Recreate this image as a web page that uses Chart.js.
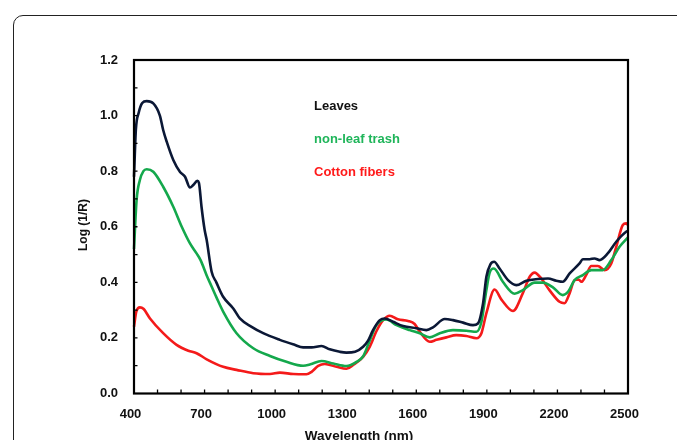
<!DOCTYPE html>
<html>
<head>
<meta charset="utf-8">
<script src="https://cdn.jsdelivr.net/npm/chart.js@4/dist/chart.umd.min.js"></script>
<style>
  html, body { margin: 0; padding: 0; background: #fff; }
  #wrap { position: relative; width: 677px; height: 440px; overflow: hidden; }
  #frame { position: absolute; left: 13px; top: 15px; width: 700px; height: 480px;
           border: 1.2px solid #222; border-radius: 10px; box-sizing: border-box; }
  canvas { position: absolute; left: 0; top: 0; }
</style>
</head>
<body>
<div id="wrap">
  <div id="frame"></div>
  <canvas id="c" width="677" height="440"></canvas>
</div>
<script>
// ---- Data ----
const seriesNames = ["Leaves", "non-leaf trash", "Cotton fibers"];

const leavesWl  = [400, 408, 420, 435, 454, 482, 510, 524, 539, 567, 595, 617, 638, 652, 669, 676, 687, 700, 709, 730, 750, 779, 822, 850, 900, 949, 1020, 1080, 1119, 1155, 1197, 1232, 1275, 1303, 1340, 1374, 1395, 1416, 1445, 1466, 1501, 1544, 1600, 1643, 1671, 1721, 1756, 1799, 1841, 1862, 1884, 1898, 1915, 1931, 1954, 1990, 2025, 2068, 2117, 2160, 2195, 2223, 2252, 2294, 2308, 2337, 2358, 2379, 2414, 2450, 2492, 2500];
const leavesVal = [0.78, 0.95, 1.01, 1.045, 1.052, 1.044, 1.0, 0.948, 0.906, 0.84, 0.798, 0.78, 0.741, 0.75, 0.765, 0.758, 0.672, 0.59, 0.552, 0.438, 0.40, 0.348, 0.306, 0.27, 0.24, 0.217, 0.193, 0.176, 0.166, 0.166, 0.171, 0.159, 0.150, 0.147, 0.150, 0.168, 0.19, 0.228, 0.264, 0.270, 0.258, 0.243, 0.235, 0.228, 0.238, 0.268, 0.264, 0.255, 0.246, 0.252, 0.325, 0.420, 0.465, 0.474, 0.450, 0.408, 0.39, 0.406, 0.412, 0.414, 0.406, 0.402, 0.432, 0.468, 0.483, 0.483, 0.486, 0.480, 0.504, 0.546, 0.582, 0.585];

const trashWl  = [400, 411, 425, 440, 454, 482, 524, 567, 603, 638, 666, 683, 709, 730, 751, 779, 836, 907, 978, 1048, 1119, 1150, 1197, 1247, 1303, 1346, 1375, 1395, 1431, 1473, 1516, 1572, 1615, 1657, 1700, 1756, 1813, 1856, 1877, 1898, 1912, 1930, 1968, 2018, 2053, 2103, 2138, 2181, 2223, 2245, 2273, 2308, 2344, 2393, 2429, 2464, 2500];
const trashVal = [0.52, 0.696, 0.768, 0.80, 0.807, 0.798, 0.744, 0.672, 0.600, 0.540, 0.504, 0.480, 0.425, 0.385, 0.345, 0.295, 0.217, 0.163, 0.135, 0.114, 0.100, 0.105, 0.117, 0.108, 0.099, 0.114, 0.135, 0.175, 0.246, 0.266, 0.246, 0.228, 0.217, 0.202, 0.217, 0.228, 0.226, 0.222, 0.258, 0.372, 0.435, 0.450, 0.402, 0.359, 0.372, 0.399, 0.399, 0.382, 0.354, 0.366, 0.408, 0.426, 0.444, 0.444, 0.480, 0.528, 0.562];

const cottonWl  = [400, 410, 425, 440, 468, 524, 581, 631, 666, 709, 779, 836, 907, 978, 1020, 1077, 1133, 1155, 1183, 1211, 1261, 1303, 1332, 1374, 1402, 1431, 1459, 1487, 1522, 1565, 1593, 1615, 1657, 1686, 1728, 1770, 1813, 1856, 1877, 1898, 1933, 1962, 2011, 2053, 2082, 2103, 2131, 2166, 2209, 2230, 2252, 2273, 2290, 2302, 2322, 2344, 2372, 2400, 2429, 2450, 2478, 2492, 2500];
const cottonVal = [0.240, 0.295, 0.310, 0.305, 0.270, 0.217, 0.175, 0.154, 0.145, 0.123, 0.096, 0.085, 0.073, 0.070, 0.075, 0.070, 0.069, 0.078, 0.099, 0.106, 0.096, 0.089, 0.103, 0.132, 0.168, 0.225, 0.264, 0.280, 0.267, 0.261, 0.250, 0.222, 0.186, 0.193, 0.202, 0.210, 0.207, 0.199, 0.217, 0.289, 0.374, 0.338, 0.297, 0.361, 0.420, 0.435, 0.414, 0.372, 0.330, 0.325, 0.361, 0.408, 0.410, 0.402, 0.426, 0.459, 0.459, 0.444, 0.468, 0.528, 0.606, 0.612, 0.606];

const xTickLabels = [400, 700, 1000, 1300, 1600, 1900, 2200, 2500];
const yTickLabels = [0.0, 0.2, 0.4, 0.6, 0.8, 1.0, 1.2];

const xTitle = "Wavelength (nm)";
const yTitle = "Log (1/R)";

// ---- Styles ----
const lineColors = ["#0b1836", "#14a84c", "#f41a1a"];
const legendColors = ["#111111", "#1fb55a", "#ff1a1a"];
const FONT = "Liberation Sans, Arial, sans-serif";

function toPts(xs, ys) { return xs.map((x, i) => ({ x: x, y: ys[i] })); }

const framePlugin = {
  id: 'framePlugin',
  afterDatasetsDraw(chart) {
    const { ctx, chartArea: a, scales } = chart;
    const xs = scales.x, ys = scales.y;
    ctx.save();
    ctx.strokeStyle = '#000';
    // minor/major inward ticks
    ctx.lineWidth = 1.3;
    ctx.beginPath();
    for (let v = 500; v < 2500; v += 100) {
      const px = xs.getPixelForValue(v);
      ctx.moveTo(px, a.bottom); ctx.lineTo(px, a.bottom - 4);
    }
    for (let k = 1; k < 12; k++) {
      const py = ys.getPixelForValue(k / 10);
      ctx.moveTo(a.left, py); ctx.lineTo(a.left + 3.5, py);
    }
    ctx.stroke();
    // frame
    ctx.lineWidth = 2.2;
    ctx.strokeRect(a.left, a.top, a.right - a.left, a.bottom - a.top);
    // in-plot legend texts
    ctx.font = "bold 13px " + FONT;
    ctx.textBaseline = 'middle';
    ctx.textAlign = 'left';
    const ly = [106.5, 139.5, 172.5];
    seriesNames.forEach((n, i) => {
      ctx.fillStyle = legendColors[i];
      ctx.fillText(n, 314, ly[i]);
    });
    // axis titles
    ctx.fillStyle = '#111';
    ctx.textAlign = 'center';
    ctx.textBaseline = 'alphabetic';
    ctx.font = "bold 13.5px " + FONT;
    ctx.fillText(xTitle, 359, 439.5);
    ctx.font = "bold 12px " + FONT;
    ctx.textBaseline = 'middle';
    ctx.translate(84, 225);
    ctx.rotate(-Math.PI / 2);
    ctx.fillText(yTitle, 0, 0);
    ctx.restore();
  }
};

const ds = (label, xs, ys, color) => ({
  label: label,
  data: toPts(xs, ys),
  borderColor: color,
  backgroundColor: color,
  borderWidth: 2.6,
  pointRadius: 0,
  fill: false,
  cubicInterpolationMode: 'monotone',
  clip: false
});

new Chart(document.getElementById('c'), {
  type: 'line',
  data: {
    datasets: [
      ds(seriesNames[0], leavesWl, leavesVal, lineColors[0]),
      ds(seriesNames[1], trashWl, trashVal, lineColors[1]),
      ds(seriesNames[2], cottonWl, cottonVal, lineColors[2])
    ]
  },
  options: {
    responsive: false,
    animation: false,
    devicePixelRatio: 1,
    layout: { padding: { left: 0, top: 60, right: 49, bottom: 0 } },
    plugins: { legend: { display: false }, tooltip: { enabled: false } },
    scales: {
      x: {
        type: 'linear', min: 400, max: 2500,
        afterFit(s) { s.height = 46.5; },
        afterBuildTicks(s) { s.ticks = xTickLabels.map(v => ({ value: v })); },
        grid: { display: false, drawTicks: false },
        border: { display: false },
        ticks: { padding: 13, maxRotation: 0, autoSkip: false, labelOffset: -3.5,
                 color: '#111', font: { family: FONT, size: 13, weight: 'bold' },
                 callback: v => String(v) }
      },
      y: {
        type: 'linear', min: 0, max: 1.2,
        afterFit(s) { s.width = 134; },
        afterBuildTicks(s) { s.ticks = yTickLabels.map(v => ({ value: v })); },
        grid: { display: false, drawTicks: false },
        border: { display: false },
        ticks: { padding: 16, color: '#111', font: { family: FONT, size: 13, weight: 'bold' },
                 callback: v => Number(v).toFixed(1) }
      }
    }
  },
  plugins: [framePlugin]
});
</script>
</body>
</html>
